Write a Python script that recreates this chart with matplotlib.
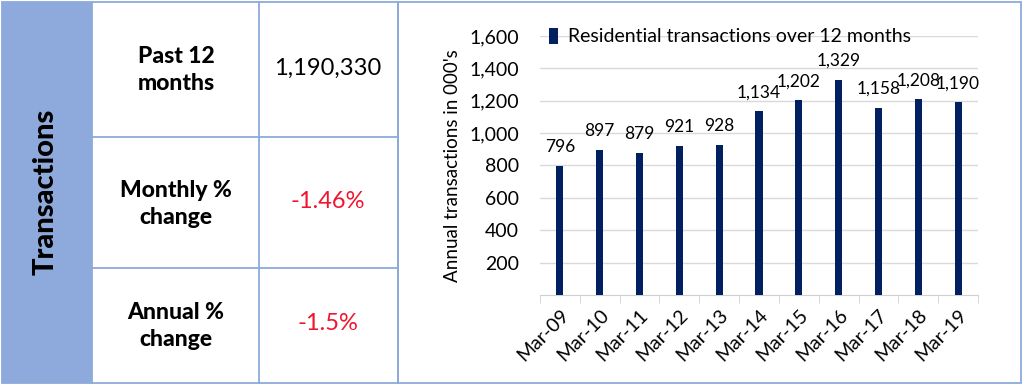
import matplotlib.pyplot as plt
from matplotlib.patches import Rectangle
from matplotlib.ticker import FuncFormatter, FixedLocator

# chart data
months = ['Mar-09', 'Mar-10', 'Mar-11', 'Mar-12', 'Mar-13', 'Mar-14',
          'Mar-15', 'Mar-16', 'Mar-17', 'Mar-18', 'Mar-19']
transactions = [796, 897, 879, 921, 928, 1134, 1202, 1329, 1158, 1208, 1190]

# table data
row_labels = ['Past 12\nmonths', 'Monthly %\nchange', 'Annual %\nchange']
row_values = ['1,190,330', '-1.46%', '-1.5%']
row_colors = ['black', '#f0142e', '#f0142e']

W, H = 1024, 386
border = '#8eaadb'
navy = '#002060'

fig = plt.figure(figsize=(W / 100, H / 100), dpi=100)

# background layer in pixel coordinates for the table and frames
bg = fig.add_axes([0, 0, 1, 1])
bg.set_xlim(0, W)
bg.set_ylim(H, 0)
bg.axis('off')

bg.add_patch(Rectangle((2, 2), 90, 381, facecolor='#8eaadc', edgecolor='none'))
lw = 1.3
bg.add_patch(Rectangle((2, 2), 396, 381, fill=False, edgecolor=border, lw=lw))
bg.add_patch(Rectangle((398, 2), 623, 381, fill=False, edgecolor=border, lw=lw))
for x in [92, 259]:
    bg.plot([x, x], [2, 383], color=border, lw=lw)
for y in [137, 268]:
    bg.plot([92, 398], [y, y], color=border, lw=lw)

bg.text(46, 192, 'Transactions', rotation=90, ha='center', va='center',
        fontsize=21, fontweight='black', family='Lato')

row_y = [70, 204, 326]
for lab, val, col, y in zip(row_labels, row_values, row_colors, row_y):
    bg.text(176, y, lab, ha='center', va='center', fontsize=16.5,
            fontweight='black', family='Lato', linespacing=1.3)
    bg.text(328, y - 2, val, ha='center', va='center', fontsize=17,
            color=col, family='Lato')

# bar chart
x0, x1, ytop, ybase = 540, 978, 36, 295
ax = fig.add_axes([x0 / W, (H - ybase) / H, (x1 - x0) / W, (ybase - ytop) / H])
pos = range(len(months))
bars = ax.bar(pos, transactions, width=0.18, color=navy,
              label='Residential transactions over 12 months', zorder=3)
ax.set_xlim(-0.5, len(months) - 0.5)
ax.set_ylim(0, 1600)
ax.set_yticks(range(200, 1601, 200))
ax.yaxis.set_major_formatter(FuncFormatter(lambda v, p: f'{int(v):,}'))
ax.grid(axis='y', color='#d9d9d9', lw=1, zorder=0)
for s in ['left', 'right', 'top']:
    ax.spines[s].set_visible(False)
ax.spines['bottom'].set_color('#d0d0d0')
ax.tick_params(axis='y', length=0, labelsize=14, pad=15)
ax.set_xticks(list(pos))
ax.set_xticklabels(months, rotation=45, ha='right', rotation_mode='anchor',
                   fontsize=14)
ax.tick_params(axis='x', length=0, pad=8)
ax.xaxis.set_minor_locator(FixedLocator([i - 0.5 for i in range(len(months) + 1)]))
ax.tick_params(axis='x', which='minor', length=6, color='#d0d0d0')
for lab in ax.get_xticklabels() + ax.get_yticklabels():
    lab.set_family('Lato')

for b, v in zip(bars, transactions):
    ax.annotate(f'{v:,}', (b.get_x() + b.get_width() / 2, v),
                xytext=(0, 8), textcoords='offset points', ha='center',
                va='bottom', fontsize=12.5, family='Lato')

ax.set_ylabel("Annual transactions in 000's", fontsize=13.5, family='Lato',
              labelpad=6)
leg = ax.legend(loc='upper left', bbox_to_anchor=(-0.02, 1.1), frameon=False,
                prop={'family': 'Lato', 'size': 14}, handlelength=0.5,
                handleheight=0.9, handletextpad=0.5)

fig.savefig('out.png', dpi=100)
